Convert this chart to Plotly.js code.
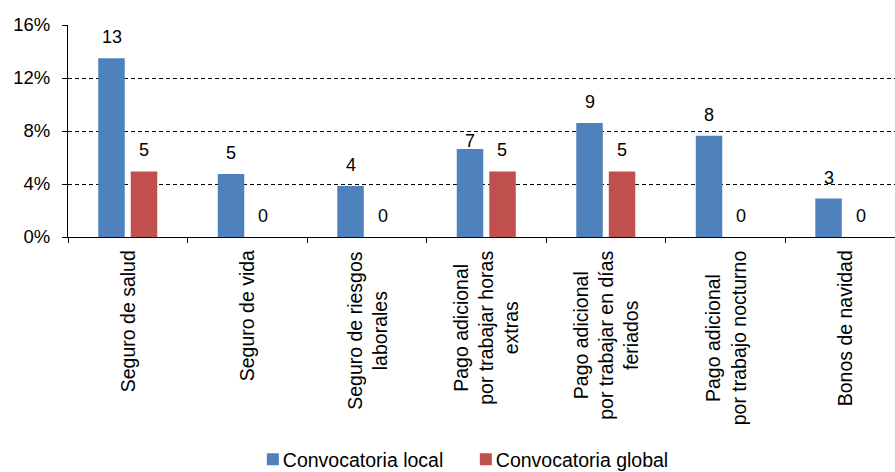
<!DOCTYPE html>
<html>
<head>
<meta charset="utf-8">
<script src="https://cdn.plot.ly/plotly-3.0.1.min.js"></script>
<style>html,body{margin:0;padding:0;background:#fff;}#chart{width:895px;height:472px;}</style>
</head>
<body>
<div id="chart"></div>
<script>
const categories = ["Seguro de salud", "Seguro de vida", "Seguro de riesgos laborales",
  "Pago adicional por trabajar horas extras", "Pago adicional por trabajar en días feriados",
  "Pago adicional por trabajo nocturno", "Bonos de navidad"];
const tickLabels = ["Seguro de salud", "Seguro de vida", "Seguro de riesgos<br>laborales",
  "Pago adicional<br>por trabajar horas<br>extras", "Pago adicional<br>por trabajar en días<br>feriados",
  "Pago adicional<br>por trabajo nocturno", "Bonos de navidad"];
const localValues = [13.5, 4.75, 3.85, 6.65, 8.6, 7.65, 2.9];
const globalValues = [4.95, 0, 0, 4.95, 4.95, 0, 0];
const localLabels = ["13", "5", "4", "7", "9", "8", "3"];
const globalLabels = ["5", "0", "0", "5", "5", "0", "0"];
const yTickVals = [0, 4, 8, 12, 16];
const yTickText = ["0%", "4%", "8%", "12%", "16%"];
const seriesNames = ["Convocatoria local", "Convocatoria global"];

const FONT = "Liberation Sans, Arial, sans-serif";
const traces = [
  {type: "bar", name: seriesNames[0], x: categories, y: localValues, marker: {color: "#4F81BD"}, hoverinfo: "skip"},
  {type: "bar", name: seriesNames[1], x: categories, y: globalValues, marker: {color: "#C0504D"}, hoverinfo: "skip"}
];

const annotations = [];
[[localValues, localLabels, -16], [globalValues, globalLabels, 16]].forEach(([vals, labs, dx], s) => {
  vals.forEach((v, i) => {
    annotations.push({
      xref: "x", yref: "y", x: categories[i], y: v, text: labs[i], showarrow: false,
      xshift: dx, yshift: (s === 0 && i === 3) ? 8 : 21, yanchor: "middle",
      font: {family: FONT, size: 18, color: "#000"}
    });
  });
});
tickLabels.forEach((t, i) => {
  annotations.push({
    xref: "x", yref: "paper", x: categories[i], y: 0, yshift: -11.5, yanchor: "top",
    text: t, textangle: -90, align: "center", showarrow: false,
    font: {family: FONT, size: 19.5, color: "#000"}
  });
});

const layout = {
  width: 895, height: 472,
  margin: {l: 68, r: 0, t: 25, b: 235, pad: 0, autoexpand: false},
  paper_bgcolor: "#fff", plot_bgcolor: "#fff",
  barmode: "group", bargap: 0.456, bargroupgap: 0.185,
  font: {family: FONT, color: "#000"},
  showlegend: true,
  legend: {orientation: "h", x: 0.2235, xanchor: "left", y: -1.05, yanchor: "middle",
    entrywidth: 168, entrywidthmode: "pixels",
    font: {family: FONT, size: 19.5, color: "#000"}, itemclick: false, traceorder: "normal"},
  xaxis: {type: "category", range: [-0.5, 6.42], showticklabels: false, showline: true,
    linecolor: "#000", linewidth: 1, ticks: "outside", tickson: "boundaries", ticklen: 5,
    tickcolor: "#000", showgrid: false, zeroline: false, fixedrange: true},
  yaxis: {range: [0, 16], tickvals: yTickVals, ticktext: yTickText, showline: true,
    linecolor: "#000", linewidth: 1, ticks: "outside", ticklen: 5, tickcolor: "#000",
    ticklabelstandoff: 8,
    showgrid: true, gridcolor: "#000", gridwidth: 1, griddash: "4px,3px", zeroline: false,
    tickfont: {family: FONT, size: 18.5, color: "#000"}, fixedrange: true},
  annotations: annotations
};

Plotly.newPlot("chart", traces, layout, {staticPlot: true, displayModeBar: false}).then(() => {
  // tighten the gap between legend swatch and its text, as in the reference
  document.querySelectorAll(".legendtext").forEach(t => {
    const x = parseFloat(t.getAttribute("x")) || 0;
    t.setAttribute("x", x - 10);
  });
});
</script>
</body>
</html>
